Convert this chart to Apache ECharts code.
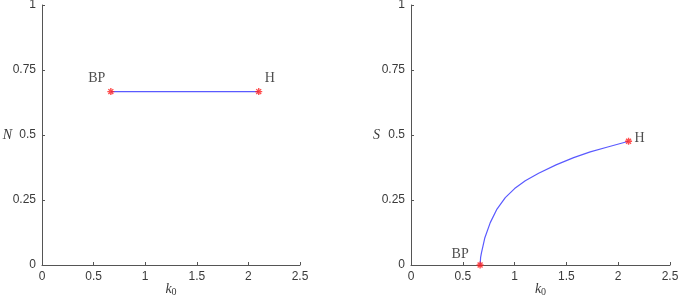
<!DOCTYPE html>
<html>
<head>
<meta charset="utf-8">
<script src="https://cdn.jsdelivr.net/npm/echarts@6/dist/echarts.min.js"></script>
<style>
  html, body { margin: 0; padding: 0; background: #fff; }
  #chart { width: 680px; height: 300px; }
</style>
</head>
<body>
<div id="chart"></div>
<script>
// 数据：左图 N(k0)，右图 S(k0)
const xTicks = [0, 0.5, 1, 1.5, 2, 2.5]
const yTicks = [0, 0.25, 0.5, 0.75, 1]

const k0N = [0.667, 2.1]
const nVals = [0.667, 0.667]

const k0S = [0.667, 0.672, 0.68, 0.713, 0.765, 0.83, 0.91, 1.0, 1.103, 1.232, 1.4, 1.57, 1.73, 1.89, 2.1]
const sVals = [0, 0.029, 0.047, 0.105, 0.163, 0.215, 0.259, 0.294, 0.324, 0.353, 0.385, 0.413, 0.435, 0.453, 0.476]

// 特殊点
const pointNames = ['BP', 'H']
const nPointsK = [0.667, 2.1]
const nPointsV = [0.667, 0.667]
const sPointsK = [0.667, 2.1]
const sPointsV = [0, 0.476]

const axisColor = '#555'
const textColor = '#3a3a3a'
const lineBlue = '#5a5aff'
const starRed = '#ff2020'
const asterisk = 'path://M0,5L10,5M5,0L5,10M1.5,1.5L8.5,8.5M8.5,1.5L1.5,8.5'

const chart = echarts.init(document.getElementById('chart'), null, {renderer: 'canvas'})

function xAxisOpt(gridIndex) {
  return {
    gridIndex: gridIndex,
    type: 'value',
    min: xTicks[0],
    max: xTicks[xTicks.length - 1],
    interval: 0.5,
    name: '{i|k}{s|0}',
    nameLocation: 'middle',
    nameGap: 16,
    nameMoveOverlap: false,
    nameTextStyle: {
      rich: {
        i: {fontFamily: 'Liberation Serif', fontStyle: 'italic', fontSize: 14, color: textColor},
        s: {fontFamily: 'Liberation Serif', fontSize: 10, color: textColor, padding: [6, 0, 0, 0]}
      }
    },
    axisLine: {show: true, lineStyle: {color: axisColor, width: 1}},
    axisTick: {show: true, inside: true, length: 3, lineStyle: {color: axisColor}},
    axisLabel: {color: textColor, fontFamily: 'Liberation Sans', fontSize: 12, margin: 6},
    splitLine: {show: false}
  }
}

function yAxisOpt(gridIndex, name, gap) {
  return {
    gridIndex: gridIndex,
    type: 'value',
    min: yTicks[0],
    max: yTicks[yTicks.length - 1],
    interval: 0.25,
    name: name,
    nameLocation: 'middle',
    nameGap: gap,
    nameRotate: 0,
    nameMoveOverlap: false,
    nameTextStyle: {fontFamily: 'Liberation Serif', fontStyle: 'italic', fontSize: 14, color: textColor},
    axisLine: {show: true, lineStyle: {color: axisColor, width: 1}},
    axisTick: {show: true, inside: true, length: 3, lineStyle: {color: axisColor}},
    axisLabel: {color: textColor, fontFamily: 'Liberation Sans', fontSize: 12, margin: 6},
    splitLine: {show: false}
  }
}

function pointData(ks, vs, offsets) {
  return ks.map((k, i) => ({
    value: [k, vs[i]],
    name: pointNames[i],
    label: {offset: offsets[i]}
  }))
}

function pointSeries(idx, data) {
  return {
    type: 'scatter',
    xAxisIndex: idx,
    yAxisIndex: idx,
    symbol: asterisk,
    symbolSize: 7,
    itemStyle: {color: starRed, borderColor: starRed, borderWidth: 1.4},
    label: {
      show: true,
      position: 'inside',
      formatter: p => p.name,
      fontFamily: 'Liberation Serif',
      fontSize: 14,
      color: '#222'
    },
    data: data,
    z: 5
  }
}

chart.setOption({
  animation: false,
  grid: [
    {left: 42, top: 5, width: 258, height: 260, outerBoundsMode: 'none'},
    {left: 411, top: 5, width: 259, height: 260, outerBoundsMode: 'none'}
  ],
  xAxis: [xAxisOpt(0), xAxisOpt(1)],
  yAxis: [yAxisOpt(0, 'N', 30), yAxisOpt(1, 'S', 31)],
  series: [
    {
      type: 'line',
      xAxisIndex: 0,
      yAxisIndex: 0,
      data: k0N.map((k, i) => [k, nVals[i]]),
      showSymbol: false,
      lineStyle: {color: lineBlue, width: 1.2}
    },
    {
      type: 'line',
      xAxisIndex: 1,
      yAxisIndex: 1,
      data: k0S.map((k, i) => [k, sVals[i]]),
      showSymbol: false,
      smooth: false,
      lineStyle: {color: lineBlue, width: 1.2}
    },
    pointSeries(0, pointData(nPointsK, nPointsV, [[-14, -13], [11, -13]])),
    pointSeries(1, pointData(sPointsK, sPointsV, [[-20, -11], [11, -3]]))
  ]
})
</script>
</body>
</html>
